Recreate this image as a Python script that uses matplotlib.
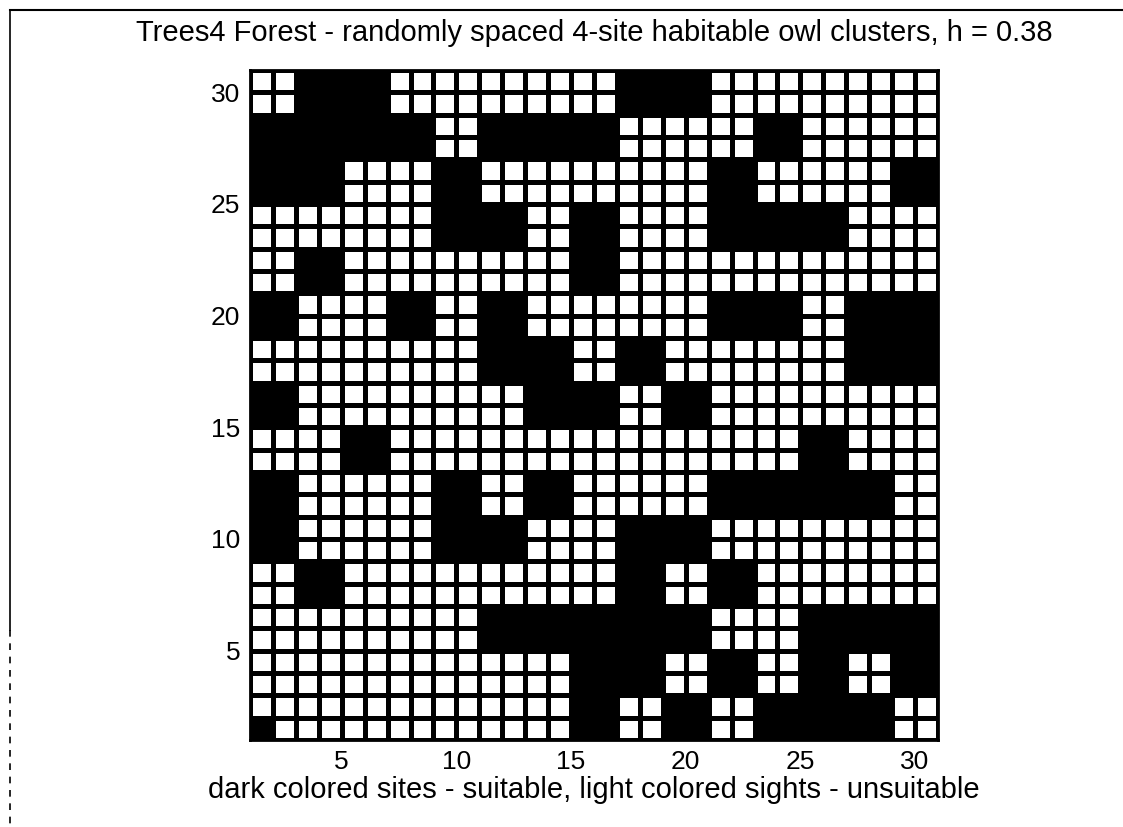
import matplotlib.pyplot as plt
import numpy as np
from matplotlib.colors import ListedColormap
from matplotlib.lines import Line2D

plt.rcParams["font.family"] = ["Liberation Sans", "DejaVu Sans"]

TITLE = "Trees4 Forest - randomly spaced 4-site habitable owl clusters, h = 0.38"
XLABEL = "dark colored sites - suitable, light colored sights - unsuitable"
TICKS = [5, 10, 15, 20, 25, 30]

# forest sites, top row (y = 30) first; 1 = suitable (dark), 0 = unsuitable (light)
SITE_ROWS = [
    "001111000000000011110000000000",  # 30
    "001111000000000011110000000000",  # 29
    "111111110011111100000011000000",  # 28
    "111111110011111100000011000000",  # 27
    "111100001100000000001100000011",  # 26
    "111100001100000000001100000011",  # 25
    "000000001111001100001111110000",  # 24
    "000000001111001100001111110000",  # 23
    "001100000000001100000000000000",  # 22
    "001100000000001100000000000000",  # 21
    "110000110011000000001111001111",  # 20
    "110000110011000000001111001111",  # 19
    "000000000011110011000000001111",  # 18
    "000000000011110011000000001111",  # 17
    "110000000000111100110000000000",  # 16
    "110000000000111100110000000000",  # 15
    "000011000000000000000000110000",  # 14
    "000011000000000000000000110000",  # 13
    "110000001100110000001111111100",  # 12
    "110000001100110000001111111100",  # 11
    "110000001111000011110000000000",  # 10
    "110000001111000011110000000000",  # 9
    "001100000000000011001100000000",  # 8
    "001100000000000011001100000000",  # 7
    "000000000011111111110000111111",  # 6
    "000000000011111111110000111111",  # 5
    "000000000000001111001100110011",  # 4
    "000000000000001111001100110011",  # 3
    "000000000000001100110011111100",  # 2
    "100000000000001100110011111100",  # 1
]
assert all(len(r) == 30 for r in SITE_ROWS)

grid = np.array([[int(c) for c in row] for row in SITE_ROWS])[::-1]
edges = np.arange(1, grid.shape[0] + 2)

fig = plt.figure(figsize=(11.23, 8.27), dpi=100)
ax = fig.add_axes([0.2226, 0.1052, 0.6127, 0.8102])
ax.pcolormesh(edges, edges, grid, cmap=ListedColormap(["white", "black"]),
              vmin=0, vmax=1, edgecolors="black", linewidth=2.2)
ax.set_xlim(1, 31)
ax.set_ylim(1, 31)
ax.set_xticks(TICKS)
ax.set_yticks(TICKS)
ax.tick_params(length=0, labelsize=19, pad=7)
ax.set_title(TITLE, fontsize=21, pad=21)
ax.set_xlabel(XLABEL, fontsize=21, labelpad=2)
for s in ax.spines.values():
    s.set_linewidth(2)

# page frame around the plot
fx, fy, fbreak = 0.009, 0.988, 0.238
fig.add_artist(Line2D([fx, 1.0], [fy, fy], transform=fig.transFigure, color="black", lw=1.5))
fig.add_artist(Line2D([fx, fx], [fy, fbreak], transform=fig.transFigure, color="black", lw=1.2))
fig.add_artist(Line2D([fx, fx], [fbreak, 0.0], transform=fig.transFigure, color="black",
                      lw=1.2, linestyle=(0, (4, 4))))

fig.savefig("out.png", dpi=100)
